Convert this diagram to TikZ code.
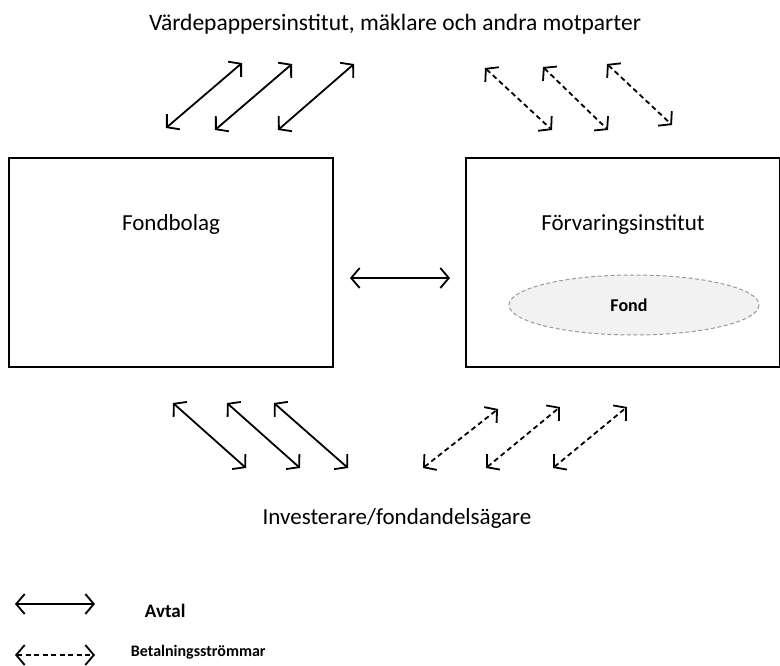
\documentclass[tikz,border=0pt]{standalone}
\usepackage{fontspec}
\setmainfont{Carlito}
\usetikzlibrary{arrows.meta}

\tikzset{
  avtal/.style={line width=1.8pt,{Straight Barb[length=8.5pt,width=20pt]}-{Straight Barb[length=8.5pt,width=20pt]}},
  betalning/.style={avtal,dash pattern=on 5pt off 3.5pt},
  ruta/.style={draw,line width=1.4pt},
  etikett/.style={inner sep=0.75pt,font=\fontsize{23}{26}\selectfont},
  liten/.style={inner sep=0.75pt,font=\bfseries\fontsize{16}{19}\selectfont}
}

\begin{document}
\begin{tikzpicture}[x=1pt,y=1pt,yscale=-1,xscale=1]
\useasboundingbox (0,0) rectangle (780,666);

%Shape: Rectangle [Fondbolag]
\draw [ruta] (9,158) rectangle (333,367);
%Shape: Rectangle [Forvaringsinstitut]
\draw [ruta] (466,158) rectangle (779.3,367);
%Shape: Ellipse [Fond]
\draw [draw=gray!80,fill=gray!10,line width=1pt,dash pattern=on 4pt off 2.5pt] (634,305) ellipse (125 and 30);

% Text Node
\node (motparter) at (395,24) [etikett,font=\fontsize{23.5}{26}\selectfont] {Värdepappersinstitut, mäklare och andra motparter};
% Text Node
\node (fondbolag) at (171,231) [etikett,anchor=base] {Fondbolag};
% Text Node
\node (forvaring) at (623,231) [etikett,anchor=base] {Förvaringsinstitut};
% Text Node
\node (fond) at (629,305) [liten,font=\bfseries\fontsize{18}{21}\selectfont] {Fond};
% Text Node
\node (investerare) at (397,518) [etikett] {Investerare/fondandelsägare};
% Text Node
\node (avtal) at (144,611) [liten,anchor=west,font=\bfseries\fontsize{19}{22}\selectfont] {Avtal};
% Text Node
\node (betalning) at (130,652) [liten,anchor=west] {Betalningsströmmar};

%Arrows top left (solid)
\draw [avtal] (166,128) -- (242,63);
\draw [avtal] (215,130) -- (292,64);
\draw [avtal] (278,130) -- (354,64);
%Arrows top right (dashed)
\draw [betalning] (485,68) -- (552,130);
\draw [betalning] (543,67) -- (608,130);
\draw [betalning] (607,64) -- (672,125);
%Arrow between boxes
\draw [avtal] (350,278) -- (450,278);
%Arrows bottom left (solid)
\draw [avtal] (173,403) -- (246,468);
\draw [avtal] (227,403) -- (300,468);
\draw [avtal] (274,403) -- (348,468);
%Arrows bottom right (dashed)
\draw [betalning] (423,468) -- (498,409);
\draw [betalning] (486,468) -- (560,407);
\draw [betalning] (553,468) -- (627,407);

%Legend
\draw [avtal] (15,604) -- (95,604);
\draw [betalning] (15,655) -- (95,655);

\end{tikzpicture}
\end{document}
